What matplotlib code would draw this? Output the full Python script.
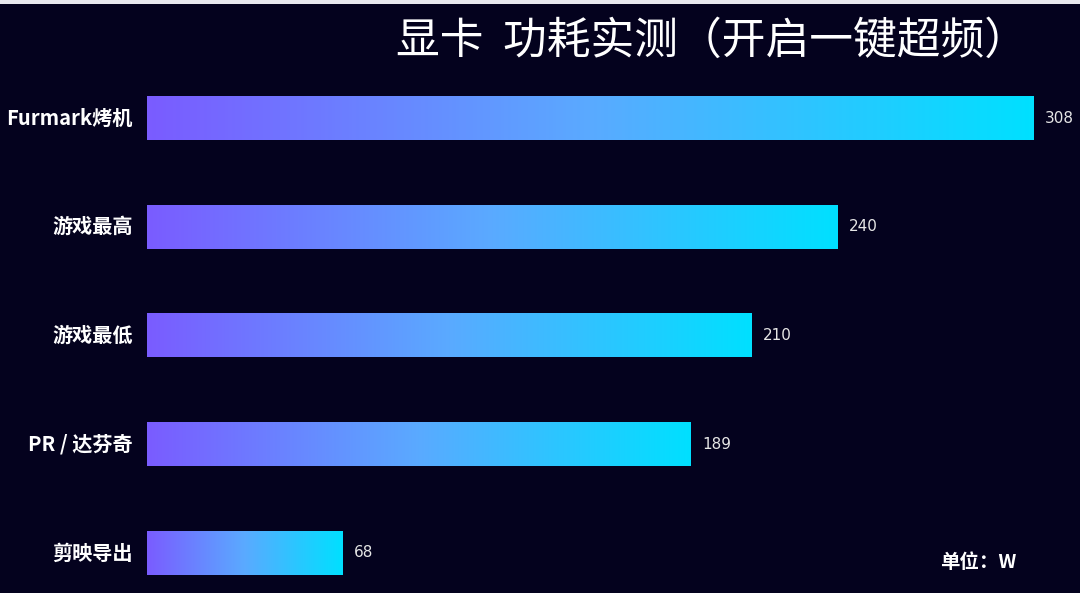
import numpy as np
import matplotlib
matplotlib.use("Agg")
import matplotlib.pyplot as plt
from matplotlib.colors import LinearSegmentedColormap
from matplotlib.patches import Rectangle

plt.rcParams['font.family'] = ['Noto Sans CJK SC', 'DejaVu Sans']

categories = ['Furmark烤机', '游戏最高', '游戏最低', 'PR / 达芬奇', '剪映导出']
power = [308, 240, 210, 189, 68]
title = '显卡  功耗实测（开启一键超频）'
unit_text = '单位：W'

bg = '#04021e'
cmap = LinearSegmentedColormap.from_list('bar', ['#7a5cff', '#5aaaff', '#00e0ff'])
grad = np.linspace(0, 1, 256).reshape(1, -1)

fig = plt.figure(figsize=(10.8, 5.93), dpi=100, facecolor=bg)
ax = fig.add_axes([147 / 1080, 0, 933 / 1080, 529 / 593])
ax.set_facecolor(bg)
for s in ax.spines.values():
    s.set_visible(False)
ax.set_xticks([])
ax.set_yticks([])

h = 0.4
for i, (cat, v) in enumerate(zip(categories, power)):
    ax.imshow(grad, cmap=cmap, aspect='auto', extent=[0, v, i + h / 2, i - h / 2],
              interpolation='bicubic', zorder=2)
    ax.text(v + 4, i, str(v), color='#e6e6e6', fontsize=11, va='center', ha='left',
            family=['DejaVu Sans'])
    ax.text(-5, i, cat, color='white', fontsize=14.5, fontweight='bold', va='center', ha='right')

ax.set_xlim(0, 933 / 2.877)
ax.set_ylim(4.368, -0.497)

fig.text(712 / 1080, 1 - 41 / 593, title, color='white', fontsize=31.5, fontweight='medium',
         ha='center', va='center')
fig.text(978 / 1080, 1 - 562 / 593, unit_text, color='white', fontsize=14, fontweight='bold',
         ha='center', va='center')
fig.patches.append(Rectangle((0, 1 - 4 / 593), 1, 4 / 593, transform=fig.transFigure,
                             facecolor='#e8e8ee', edgecolor='none'))

fig.savefig('out.png', dpi=100, facecolor=bg)
